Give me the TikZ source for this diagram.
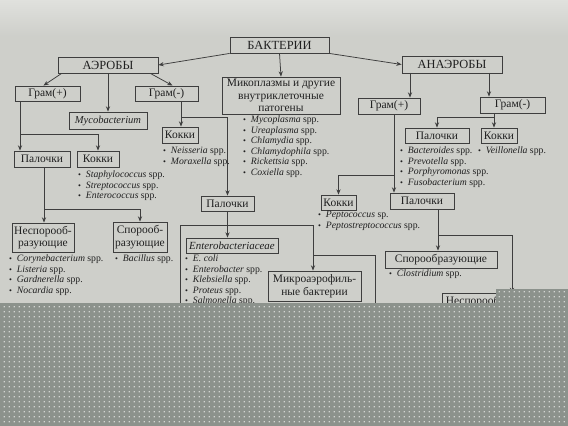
\documentclass[tikz,border=0pt]{standalone}
\usepackage{fontspec}
\setmainfont{Liberation Serif}
\usetikzlibrary{arrows.meta,patterns.meta,calc}

\definecolor{paper}{RGB}{206,207,202}
\definecolor{paperlight}{RGB}{224,225,221}
\definecolor{ink}{RGB}{32,32,32}
\definecolor{rule}{RGB}{62,62,62}
\definecolor{veil}{RGB}{140,146,140}
\definecolor{speck}{RGB}{238,239,236}

\tikzset{
  box/.style={draw=rule, line width=0.75pt, text=ink, inner sep=1pt, align=center,
              font=\fontsize{9.8}{10.8}\selectfont},
  head/.style={box, font=\fontsize{10.6}{12}\selectfont},
  mw/.style={minimum width=#1*0.03cm},
  mh/.style={minimum height=#1*0.03cm},
  spp/.style={anchor=north west, inner sep=0pt, align=left, text=ink,
              font=\fontsize{8.3}{8.9}\selectfont},
  link/.style={draw=rule, line width=0.65pt},
  arr/.style={link, -{Stealth[length=4.5pt,width=3.6pt]}},
}
\newcommand{\itm}[1]{{\scriptsize\textbullet}\enspace\textit{#1}}

\begin{document}
\begin{tikzpicture}[x=0.03cm, y=-0.03cm]

% page (1 unit = 1 px of the 568x426 photo, y downwards)
\fill[paper] (0,0) rectangle (568,426);
\shade[top color=paperlight, bottom color=paper] (0,0) rectangle (568,36);
\useasboundingbox (0,0) rectangle (568,426);

% =====================================================================
% Top level
% =====================================================================
\node[head, mw=99, mh=16]  (bact)  at (279.5,45) {БАКТЕРИИ};
\node[head, mw=100, mh=16] (aer)   at (108,65)   {АЭРОБЫ};
\node[head, mw=100, mh=17] (anaer) at (452,64.5) {АНАЭРОБЫ};
\node[box, mw=118, mh=37]  (myco)  at (281,95.5)
  {Микоплазмы и другие\\внутриклеточные\\патогены};

\draw[arr] (bact.south west) -- (aer.east);
\draw[arr] (bact.south east) -- (anaer.west);
\draw[arr] (bact.south) -- (myco.north);

% Mycoplasma list
\node[spp] (lmyco) at (243,116) {\itm{Mycoplasma} spp.\\ \itm{Ureaplasma} spp.\\
  \itm{Chlamydia} spp.\\ \itm{Chlamydophila} spp.\\ \itm{Rickettsia} spp.\\ \itm{Coxiella} spp.};

% =====================================================================
% Aerobes
% =====================================================================
\node[box, mw=65, mh=15] (gpA)   at (47.5,93.5)  {Грам(+)};
\node[box, mw=63, mh=15] (gnA)   at (166.5,93.5) {Грам(-)};
\node[box, mw=78, mh=17, font=\fontsize{9}{10}\selectfont] (mycob) at (108,120.5)
  {\textit{Mycobacterium}};

\draw[arr] ($(aer.south west)+(4,0)$) -- ($(gpA.north)+(-4,0)$);
\draw[arr] (aer.south) -- (mycob.north);
\draw[arr] ($(aer.south east)+(-8,0)$) -- ($(gnA.north)+(6,0)$);

% Gram(-): cocci + rods (middle column)
\node[box, mw=36, mh=16] (cocA2) at (180,135)     {Кокки};
\node[box, mw=53, mh=15] (rodM)  at (227.5,203.5) {Палочки};
\coordinate (kn1) at (181,117);
\draw[arr] (gnA.south -| kn1) -- (cocA2.north -| kn1);
\draw[arr] (kn1) -| (rodM.north);
\node[spp] (lcocA2) at (163,147) {\itm{Neisseria} spp.\\ \itm{Moraxella} spp.};

% Gram(+): rods + cocci
\node[box, mw=56, mh=16] (rodA) at (42,159) {Палочки};
\node[box, mw=42, mh=16] (cocA) at (98,159) {Кокки};
\coordinate (kn2) at (20,134);
\draw[link] (gpA.south -| kn2) -- (kn2);
\draw[arr] (kn2) -- (rodA.north -| kn2);
\draw[arr] (kn2) -| (cocA.north);
\node[spp] (lcocA) at (78,171) {\itm{Staphylococcus} spp.\\ \itm{Streptococcus} spp.\\
  \itm{Enterococcus} spp.};

% rods: non-spore / spore forming
\node[box, mw=62, mh=29] (nonspA) at (43,237.5) {Неспорооб-\\разующие};
\node[box, mw=54, mh=30] (spA)    at (140,237)  {Спорооб-\\разующие};
\coordinate (kn3) at (44,209);
\draw[link] (rodA.south -| kn3) -- (kn3);
\draw[arr] (kn3) -- (nonspA.north -| kn3);
\draw[arr] (kn3) -| (spA.north);
\node[spp] (lnonspA) at (9,255) {\itm{Corynebacterium} spp.\\ \itm{Listeria} spp.\\
  \itm{Gardnerella} spp.\\ \itm{Nocardia} spp.};
\node[spp] (lspA) at (115,255) {\itm{Bacillus} spp.};

% Gram(-) rods: Enterobacteriaceae / microaerophiles / (hidden) others
\node[box, mw=92, mh=15, font=\fontsize{9.3}{10}\selectfont] (entero) at (232,245.5)
  {\textit{Enterobacteriaceae}};
\node[box, mw=93, mh=30] (micro) at (314.5,286) {Микроаэрофиль-\\ные бактерии};
\coordinate (kn4l) at (180,225);
\coordinate (kn4r) at (313,225);
\draw[arr] (rodM.south) -- (rodM.south |- entero.north);
\draw[link] (180,330) -- (kn4l) -- (kn4r);
\draw[arr] (kn4r) -- (micro.north -| kn4r);
\coordinate (kn9) at (313,255);
\draw[link] (kn9) -- (375,255) -- (375,330);
\node[spp] (lentero) at (185,255) {\itm{E. coli}\\ \itm{Enterobacter} spp.\\
  \itm{Klebsiella} spp.\\ \itm{Proteus} spp.\\ \itm{Salmonella} spp.};

% =====================================================================
% Anaerobes
% =====================================================================
\node[box, mw=62, mh=16] (gpB) at (389,106)   {Грам(+)};
\node[box, mw=65, mh=16] (gnB) at (512.5,105) {Грам(-)};
\coordinate (kn10) at (410,73);
\coordinate (kn11) at (489,73);
\draw[arr] (kn10) -- (gpB.north -| kn10);
\draw[arr] (kn11) -- (gnB.north -| kn11);

% Gram(-): rods + cocci
\node[box, mw=64, mh=15] (rodB) at (437,135.5) {Палочки};
\node[box, mw=36, mh=15] (cocB) at (499,135.5) {Кокки};
\coordinate (kn5) at (494,117);
\draw[arr] (gnB.south -| kn5) -- (cocB.north -| kn5);
\draw[arr] (kn5) -| (rodB.north);
\node[spp] (lrodB) at (400,147) {\itm{Bacteroides} spp.\\ \itm{Prevotella} spp.\\
  \itm{Porphyromonas} spp.\\ \itm{Fusobacterium} spp.};
\node[spp] (lcocB) at (478,147) {\itm{Veillonella} spp.};

% Gram(+): cocci + rods
\node[box, mw=35, mh=15] (cocC) at (338.5,202.5) {Кокки};
\node[box, mw=64, mh=16] (rodC) at (422,201)     {Палочки};
\coordinate (kn6) at (394,175);
\draw[arr] (gpB.south -| kn6) -- (rodC.north -| kn6);
\draw[arr] (kn6) -| (cocC.north);
\node[spp] (lcocC) at (318,211) {\itm{Peptococcus} sp.\\ \itm{Peptostreptococcus} spp.};

% rods: spore / non-spore forming
\node[box, mw=112, mh=17] (spB) at (441,259.5) {Спорообразующие};
\node[box, anchor=north west, mw=110, mh=17] (nonspB) at (442,293) {Неспорообразующие};
\coordinate (kn7) at (438,235);
\coordinate (kn8) at (512,235);
\draw[arr] (rodC.south -| kn7) -- (spB.north -| kn7);
\draw[link] (kn7) -- (kn8);
\draw[arr] (kn8) -- (nonspB.north -| kn8);
\node[spp] (lspB) at (389,270) {\itm{Clostridium} spp.};

% =====================================================================
% Dotted grey veil over the lower part of the photo
% =====================================================================
\fill[veil] (0,303) rectangle (568,426) (496,289) rectangle (568,303);
\fill[pattern={Dots[distance=4pt,radius=0.65pt]}, pattern color=speck]
  (0,303) rectangle (568,426) (496,289) rectangle (568,303);

\end{tikzpicture}
\end{document}
